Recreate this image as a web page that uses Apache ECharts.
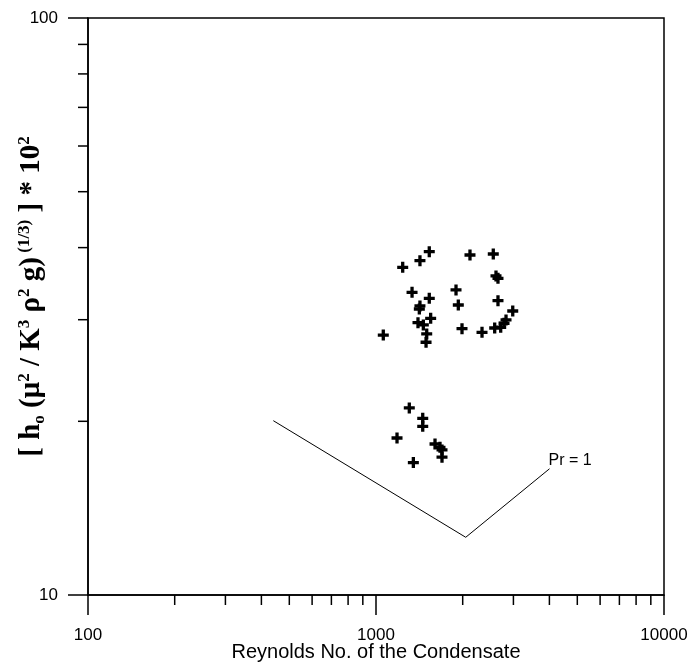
<!DOCTYPE html>
<html>
<head>
<meta charset="utf-8">
<script src="https://cdn.jsdelivr.net/npm/echarts@6/dist/echarts.min.js"></script>
<style>html,body{margin:0;padding:0;background:#fff}#c{width:692px;height:669px}</style>
</head>
<body>
<div id="c"></div>
<script>
// Experimental points: Reynolds number and dimensionless condensation coefficient
const reynolds = [1531,1421,1238,2120,2554,2610,2652,1334,1531,1896,1931,2652,2984,1421,1414,1548,1399,1460,1500,1492,1060,1989,2334,2583,2710,2783,2828,
                  1305,1453,1453,1183,1603,1668,1695,1695,1348];
const coefficient = [39.36,37.97,36.98,38.84,38.99,35.72,35.39,33.46,32.67,33.78,31.81,32.37,31.06,31.69,31.31,30.17,29.65,29.38,28.34,27.42,28.22,28.94,28.53,29.02,29.11,29.58,29.97,
                     21.10,20.24,19.60,18.71,18.27,18.03,17.84,17.33,16.96];
// Theoretical line, Pr = 1
const lineRe = [440, 2049, 4004];
const lineCoef = [20.05, 12.59, 16.55];
const lineLabel = 'Pr = 1';
// Axis ranges and minor tick values
const xRange = [100, 10000];
const yRange = [10, 100];
const xMinor = [200,300,400,500,600,700,800,900,2000,3000,4000,5000,6000,7000,8000,9000];
const yMinor = [20,30,40,50,60,70,80,90];
const xTitle = 'Reynolds No. of the Condensate';

const chart = echarts.init(document.getElementById('c'), null, {renderer: 'canvas'});
const plus = 'path://M3.5,0H6.5V3.5H10V6.5H6.5V10H3.5V6.5H0V3.5H3.5Z';
const tickPathV = 'path://M0,0H1V1H0Z';
const serif = '"Liberation Serif","Times New Roman",serif';
const sans = '"Liberation Sans",Arial,sans-serif';

chart.setOption({
  animation: false,
  backgroundColor: '#fff',
  grid: {left: 88, right: 28, top: 18, bottom: 74, containLabel: false, outerBoundsMode: 'none',
         show: true, borderColor: '#000', borderWidth: 1.5, backgroundColor: 'transparent'},
  xAxis: {
    type: 'log', logBase: 10, min: xRange[0], max: xRange[1],
    name: xTitle, nameLocation: 'middle', nameGap: 47, nameMoveOverlap: false,
    nameTextStyle: {fontFamily: sans, fontSize: 20, color: '#000'},
    axisLine: {show: true, onZero: false, lineStyle: {color: '#000', width: 1.5}},
    axisTick: {show: true, length: 20, lineStyle: {color: '#000', width: 1.5}},
    axisLabel: {margin: 32, fontFamily: sans, fontSize: 17, color: '#000', formatter: v => String(Math.round(v))},
    splitLine: {show: false}
  },
  yAxis: {
    type: 'log', logBase: 10, min: yRange[0], max: yRange[1],
    name: '{b|[ h}{sub|o}{b| (μ}{sup|2}{b| / K}{sup|3}{b| ρ}{sup|2}{b| g)}{sup| (1/3)}{b| ] * 10}{sup|2}',
    nameLocation: 'middle', nameRotate: 90, nameGap: 40, nameMoveOverlap: false,
    nameTextStyle: {
      color: '#000',
      padding: [0, 0, 0, 20],
      rich: {
        b: {fontFamily: serif, fontWeight: 'bold', fontSize: 29, lineHeight: 32, color: '#000'},
        sup: {fontFamily: serif, fontWeight: 'bold', fontSize: 17, lineHeight: 17, verticalAlign: 'top', color: '#000'},
        sub: {fontFamily: serif, fontWeight: 'bold', fontSize: 17, lineHeight: 17, verticalAlign: 'bottom', color: '#000'}
      }
    },
    axisLine: {show: true, onZero: false, lineStyle: {color: '#000', width: 1.5}},
    axisTick: {show: true, length: 20, lineStyle: {color: '#000', width: 1.5}},
    axisLabel: {margin: 30, fontFamily: sans, fontSize: 17, color: '#000', formatter: v => String(Math.round(v))},
    splitLine: {show: false}
  },
  series: [
    {
      type: 'scatter', silent: true, clip: false,
      data: xMinor.map(v => [v, yRange[0]]),
      symbol: tickPathV, symbolSize: [1.5, 10], symbolOffset: [0, 5],
      itemStyle: {color: '#000', opacity: 1}
    },
    {
      type: 'scatter', silent: true, clip: false,
      data: yMinor.map(v => [xRange[0], v]),
      symbol: tickPathV, symbolSize: [10, 1.5], symbolOffset: [-5, 0],
      itemStyle: {color: '#000', opacity: 1}
    },
    {
      type: 'line', silent: true,
      data: lineRe.map((v, i) => [v, lineCoef[i]]),
      symbol: 'none', lineStyle: {color: '#000', width: 1},
      endLabel: {show: true, formatter: lineLabel, fontFamily: sans, fontSize: 16, color: '#000', offset: [-9, -8], align: 'left'}
    },
    {
      type: 'scatter', silent: true,
      data: reynolds.map((v, i) => [v, coefficient[i]]),
      symbol: plus, symbolSize: 11,
      itemStyle: {color: '#000', opacity: 1}
    }
  ]
});
</script>
</body>
</html>
